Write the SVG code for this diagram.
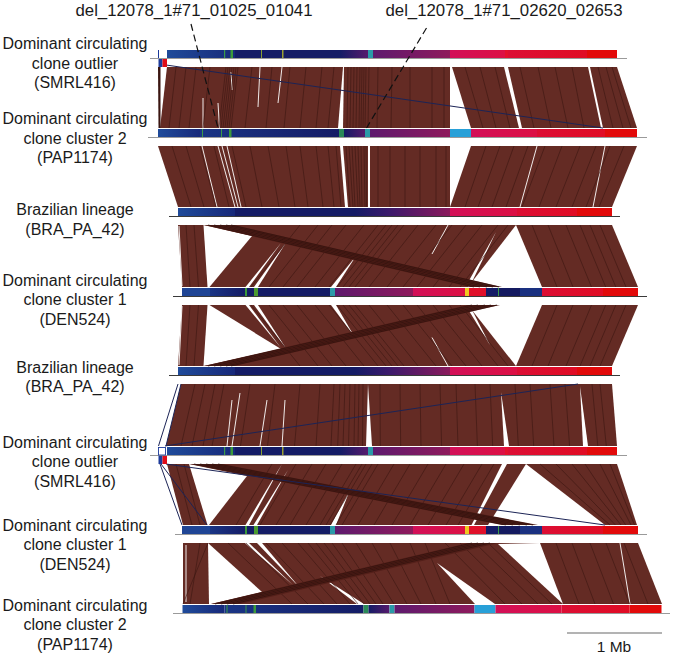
<svg xmlns="http://www.w3.org/2000/svg" xmlns:xlink="http://www.w3.org/1999/xlink" width="673" height="656" viewBox="0 0 673 656">
<style>
.lbl{font-family:"Liberation Sans",Arial,Helvetica,sans-serif;font-size:16px;fill:#1a1a1a;text-anchor:middle}
.del{font-family:"Liberation Sans",Arial,Helvetica,sans-serif;font-size:16.8px;fill:#1a1a1a;text-anchor:middle}
.rib{fill:#642b24}
.gap{fill:#fff}
.wl{stroke:#fff;stroke-width:0.9;fill:none}
.ln{stroke:#3a1510;stroke-width:0.6;fill:none}
.band{fill:#531f19}
.bl{stroke:#2e100c;stroke-width:0.7;fill:none}
.nv{stroke:#1c2456;stroke-width:1;fill:none}
.bg{stroke:#9a9a9a;stroke-width:1.2}
.bd{stroke:#3a3a3a;stroke-width:1}
.dash{stroke:#111;stroke-width:1.2;stroke-dasharray:7 4;fill:none}
</style>
<defs>
<linearGradient id="gB"><stop offset="0" stop-color="#1f4b9a"/><stop offset="1" stop-color="#17297a"/></linearGradient>
<linearGradient id="gBN"><stop offset="0" stop-color="#1a3585"/><stop offset="1" stop-color="#141c66"/></linearGradient>
<linearGradient id="gNP"><stop offset="0" stop-color="#141c66"/><stop offset="1" stop-color="#561a6c"/></linearGradient>
<linearGradient id="gNP2"><stop offset="0" stop-color="#141c66"/><stop offset="0.35" stop-color="#3a1a6c"/><stop offset="1" stop-color="#8a1a5c"/></linearGradient>
<linearGradient id="gP"><stop offset="0" stop-color="#5e1a6e"/><stop offset="1" stop-color="#8e1a5c"/></linearGradient>
<linearGradient id="gK"><stop offset="0" stop-color="#d21058"/><stop offset="1" stop-color="#dc1044"/></linearGradient>
<linearGradient id="gR"><stop offset="0" stop-color="#dc0e34"/><stop offset="1" stop-color="#e00c24"/></linearGradient>
<g id="barA">
<rect x="167" y="50" width="68" height="8" fill="url(#gB)"/>
<rect x="235" y="50" width="105" height="8" fill="#141c66"/>
<rect x="340" y="50" width="28" height="8" fill="url(#gNP)"/>
<rect x="368" y="50" width="5" height="8" fill="#2a9aa8"/>
<rect x="373" y="50" width="77" height="8" fill="url(#gP)"/>
<rect x="450" y="50" width="55" height="8" fill="url(#gK)"/>
<rect x="505" y="50" width="3" height="8" fill="#e4102c"/>
<rect x="508" y="50" width="79" height="8" fill="url(#gR)"/>
<rect x="587" y="50" width="30" height="8" fill="#e20a0a"/>
<rect x="224" y="50" width="1.2" height="8" fill="#3a9a48"/>
<rect x="230.5" y="50" width="2.5" height="8" fill="#3c9a3a"/>
<rect x="261" y="50" width="1" height="8" fill="#8aa032"/>
<rect x="282" y="50" width="1.5" height="8" fill="#9aa032"/>
<rect x="158.5" y="59" width="4" height="8" fill="#1c3a9a"/>
<rect x="162.5" y="59" width="4.5" height="8" fill="#e00c18"/>
</g>
<g id="barB">
<rect x="158" y="129" width="42" height="8" fill="url(#gB)"/>
<rect x="200" y="129" width="139" height="8" fill="url(#gBN)"/>
<rect x="202" y="129" width="1" height="8" fill="#3a9a48"/>
<rect x="221" y="129" width="1" height="8" fill="#3a9a48"/>
<rect x="229" y="129" width="2.5" height="8" fill="#3c9a3a"/>
<rect x="339" y="129" width="5" height="8" fill="#2a8a58"/>
<rect x="344" y="129" width="21" height="8" fill="url(#gNP)"/>
<rect x="365" y="129" width="5" height="8" fill="#2a9aa8"/>
<rect x="370" y="129" width="80" height="8" fill="url(#gP)"/>
<rect x="450" y="129" width="21" height="8" fill="#28a0d8"/>
<rect x="471" y="129" width="66" height="8" fill="url(#gK)"/>
<rect x="537" y="129" width="68" height="8" fill="url(#gR)"/>
<rect x="605" y="129" width="32" height="8" fill="#e20a0a"/>
</g>
<g id="barC">
<rect x="178" y="208" width="57" height="8" fill="url(#gB)"/>
<rect x="235" y="208" width="120" height="8" fill="#141c66"/>
<rect x="355" y="208" width="95" height="8" fill="url(#gNP2)"/>
<rect x="450" y="208" width="67" height="8" fill="url(#gK)"/>
<rect x="517" y="208" width="60" height="8" fill="url(#gR)"/>
<rect x="577" y="208" width="35" height="8" fill="#e20a0a"/>
</g>
<g id="barD">
<rect x="182" y="288" width="28" height="8" fill="#1f4595"/>
<rect x="210" y="288" width="35" height="8" fill="url(#gBN)"/>
<rect x="245" y="288" width="2" height="8" fill="#3a9a3a"/>
<rect x="247" y="288" width="7" height="8" fill="#141c66"/>
<rect x="254" y="288" width="4" height="8" fill="#4a9a30"/>
<rect x="258" y="288" width="72" height="8" fill="#141c66"/>
<rect x="330" y="288" width="5" height="8" fill="#2a9aa8"/>
<rect x="335" y="288" width="78" height="8" fill="url(#gP)"/>
<rect x="413" y="288" width="52" height="8" fill="url(#gK)"/>
<rect x="465" y="288" width="4" height="8" fill="#f0c820"/>
<rect x="469" y="288" width="17" height="8" fill="#e0102a"/>
<rect x="486" y="288" width="12" height="8" fill="#141c66"/>
<rect x="498" y="288" width="1" height="8" fill="#3a9a48"/>
<rect x="499" y="288" width="21" height="8" fill="#141a60"/>
<rect x="520" y="288" width="22" height="8" fill="#1a3080"/>
<rect x="542" y="288" width="61" height="8" fill="url(#gR)"/>
<rect x="603" y="288" width="35" height="8" fill="#e20a0a"/>
</g>
</defs>

<g id="connectors">
<g id="cmp-1-2">
<polygon class="rib" points="167,67 343,67 338,128 160,128"/>
<polygon class="rib" points="344,67 450,67 450,128 343,128"/>
<polygon class="rib" points="452,67 504,67 519,128 471,128"/>
<polygon class="rib" points="508,67 588,67 601,128 522,128"/>
<polygon class="rib" points="590,67 617,67 637,128 603,128"/>
<polygon fill="#3a1510" points="158,67 160.5,67 160.5,128 158.5,128"/>
<path class="wl" d="M203,98L203,128M218,103L219.5,128M260,67L258,107M282,67L278,103M231,72L232,90"/>
<path class="ln" d="M176,67L169,128M186,67L179,128M196,67L189,128M210,67L203,128M226,67L219,128M228,67L221,128M230,67L223,128M232,67L225,128M234,67L227,128M236,67L229,128M238,67L231,128M252,67L245,128M272,67L266,128M290,67L284,128M306,67L300,128M322,67L316,128M334,67L328,128M348,67L347,128M351,67L350,128M354,67L353,128M357,67L356,128M360,67L359,128M362,67L361,128M364,67L363,128M366,67L365,128M369,67L368,128M378,67L377,128M392,67L391,128M410,67L410,128M432,67L432,128M444,67L444,128M465,67L483,128M480,67L496,128M495,67L510,128M520,67L534,128M538,67L551,128M555,67L568,128M572,67L584,128M598,67L613,128M606,67L623,128M612,67L631,128"/>
<path class="nv" d="M166,65L603,128"/>
</g>
<g id="cmp-2-3">
<polygon class="rib" points="158,146 340,146 345,207 178,207"/>
<polygon class="rib" points="343,146 368,146 368,207 348,207"/>
<polygon class="rib" points="370,146 450,146 450,207 370,207"/>
<polygon class="rib" points="471,146 637,146 612,207 450,207"/>
<path class="wl" d="M202,146L217,207M218,146L235,207M222,146L238,207M227,146L241,207M537,146L520,207M605,146L593,207"/>
<path class="ln" d="M172,146L191,207M186,146L204,207M200,146L216,207M214,146L229,207M232,146L246,207M250,146L262,207M268,146L279,207M286,146L295,207M300,146L308,207M316,146L323,207M328,146L334,207M336,146L341,207M346,146L350,207M349,146L353,207M352,146L355,207M355,146L358,207M358,146L360,207M361,146L362,207M364,146L365,207M366,146L366.5,207M378,146L378,207M390,146L390,207M405,146L405,207M420,146L420,207M436,146L436,207M446,146L446,207M486,146L465,207M500,146L478,207M514,146L492,207M528,146L506,207M545,146L522,207M562,146L539,207M580,146L556,207M596,146L572,207M610,146L586,207M624,146L599,207"/>
</g>
<g id="cmp-3-4">
<polygon class="rib" points="178,225 612,225 638,287 182,287"/>
<polygon class="gap" points="203.5,225 252,236 209.5,287 207.5,287"/>
<polygon class="gap" points="287,241 258,287 254,287"/>
<polygon class="gap" points="281,243 249,287 245.5,287"/>
<polygon class="gap" points="356,256 336,287 331,287"/>
<polygon class="gap" points="496,232 470,286 466,286"/>
<polygon class="gap" points="516,225 468,287 542,287"/>
<path class="wl" d="M448,225L432,254M179,226L182,286"/>
<path class="ln" d="M186,225L190,287M194,225L198.5,287M300,225L251,287M318,225L269,287M332,225L283,287M346,225L297,287M364,225L315,287M378,225L329,287M386,225L337,287M392,225L343,287M398,225L349,287M404,225L355,287M418,225L369,287M436,225L387,287M452,225L403,287M466,225L417,287M482,225L433,287M498,225L449,287M508,225L460,287M532,225L557,287M548,225L573,287M566,225L591.5,287M580,225L605.7,287M590,225L615.8,287M600,225L626,287"/>
<polygon class="band" points="204,225 234,225 502,287 470,287"/>
<path class="bl" d="M208,225L474,287M214,225L480,287M220,225L487,287M226,225L493,287M231,225L499,287"/>
</g>
<g id="cmp-4-5">
<polygon class="rib" points="182,305 638,305 612,366 178,366"/>
<polygon class="gap" points="207.5,305 209.5,305 281,349 203.5,366"/>
<polygon class="gap" points="258,305 254,305 287,350"/>
<polygon class="gap" points="249,305 245.5,305 281,348"/>
<polygon class="gap" points="336,305 331,305 354,336"/>
<polygon class="gap" points="470,306 466,306 490,345"/>
<polygon class="gap" points="468,305 542,305 516,366"/>
<path class="wl" d="M448,366L432,337.5M182,306L179,365"/>
<path class="ln" d="M190,305L186,366M198.5,305L194,366M251,305L300,366M269,305L318,366M283,305L332,366M297,305L346,366M315,305L364,366M329,305L378,366M337,305L386,366M343,305L392,366M349,305L398,366M355,305L404,366M369,305L418,366M387,305L436,366M403,305L452,366M417,305L466,366M433,305L482,366M449,305L498,366M460,305L508,366M557,305L532,366M573,305L548,366M591.5,305L566,366M605.7,305L580,366M615.8,305L590,366M626,305L600,366"/>
<polygon class="band" points="204,366 234,366 500,305 468,305"/>
<path class="bl" d="M208,366L472,305M214,366L478,305M220,366L485,305M226,366L491,305M231,366L497,305"/>
</g>
<g id="cmp-5-6">
<polygon class="rib" points="181,384 612,384 617,446 166,446"/>
<polygon class="gap" points="368,384 372,446 366,446"/>
<polygon class="gap" points="501,392 509,446 504,446"/>
<polygon class="gap" points="580,386 588,446 583,446"/>
<path class="wl" d="M240,393L232,446M232,400L227,446M267,400L260,446M285,400L282,446"/>
<path class="ln" d="M195,384L181,446M205,384L192,446M215,384L203,446M224,384L212,446M250,384L240.5,446M275,384L267.5,446M300,384L294.5,446M320,384L316,446M334,384L331,446M340,384L337.7,446M345,384L343,446M350,384L348.5,446M355,384L354,446M359,384L358,446M363,384L362.5,446M380,384L380.3,446M400,384L400.7,446M420,384L421,446M440,384L441.6,446M456,384L458,446M475,384L477.4,446M490,384L492.7,446M515,384L518.3,446M530,384L533.7,446M550,384L554,446M565,384L569.6,446M592,384L597.8,446M600,384L606.3,446"/>
<path class="nv" d="M178,384L158.5,446M181,384L166,446M165,446L578,384"/>
</g>
<g id="cmp-6-7">
<polygon class="rib" points="167,464 617,464 637,525 183,525"/>
<polygon class="gap" points="189,464 247,476 209,525 207.5,525"/>
<polygon class="gap" points="282,464 249,525 245.5,525"/>
<polygon class="gap" points="288,470 257,525 253.5,525"/>
<polygon class="gap" points="350,490 336,525 331,525"/>
<polygon class="gap" points="502,464 507,464 474,525 471.5,525"/>
<polygon class="gap" points="526,464 488,525 605,525"/>
<path class="ln" d="M176,464L192,525M184,464L200,525M272,464L236,525M296,464L260,525M312,464L276,525M326,464L290,525M342,464L306,525M356,464L320,525M362,464L326,525M366,464L330,525M372,464L336,525M378,464L342,525M394,464L358,525M410,464L374,525M428,464L392,525M446,464L410,525M464,464L428,525M482,464L446,525M494,464L458,525M540,464L610,525M556,464L615.5,525M572,464L621,525M585,464L625.7,525M600,464L631,525M610,464L634.5,525"/>
<polygon class="band" points="190,464 222,464 538,525 502,525"/>
<path class="bl" d="M194,464L506,525M200,464L513,525M206,464L520,525M212,464L527,525M218,464L533,525"/>
<path class="nv" d="M160,464L182,525M161,464L207,525M166,464L605,525"/>
</g>
<g id="cmp-7-8">
<polygon class="rib" points="183,543 638,543 662,604 183,604"/>
<polygon class="gap" points="208,543 262,592 211,604 209,604"/>
<polygon class="gap" points="245,543 249,543 293,585"/>
<polygon class="gap" points="257,543 262,543 300,588"/>
<polygon class="gap" points="320,576 357,604 364,604"/>
<polygon class="gap" points="437,563 475,604 495,604"/>
<polygon class="gap" points="498,544 540,543 563,604"/>
<path class="wl" d="M620,543L630,604M186,545L186,602"/>
<path class="ln" d="M183,604L208,543M190,604L200,543M228,543L292,604M246,543L308,604M266,543L324,604M282,543L337,604M298,543L350,604M308,543L358,604M316,543L364,604M324,543L370,604M332,543L376,604M342,543L383,604M356,543L394,604M372,543L407,604M390,543L421,604M410,543L436,604M425,543L450,604M445,543L505,604M460,543L522,604M475,543L538,604M488,543L552,604M556,543L579,604M572,543L595,604M590,543L613.5,604M606,543L629.7,604M624,543L648,604"/>
<polygon class="band" points="211,604 240,604 498,543 468,543"/>
<path class="bl" d="M215,604L472,543M221,604L478,543M227,604L484,543M233,604L490,543"/>
</g>
</g>

<g id="track-SMRL416-top">
<line class="bg" x1="150" y1="58.5" x2="627" y2="58.5"/>
<use xlink:href="#barA"/>
<line x1="158.5" y1="50" x2="158.5" y2="58" stroke="#1c3a9a" stroke-width="1"/>
<text class="lbl" x="75" y="49">Dominant circulating</text>
<text class="lbl" x="75" y="68.5">clone outlier</text>
<text class="lbl" x="75" y="88">(SMRL416)</text>
</g>
<g id="track-PAP1174-top">
<line class="bg" x1="148" y1="137.5" x2="647" y2="137.5"/>
<use xlink:href="#barB"/>
<text class="lbl" x="75" y="124">Dominant circulating</text>
<text class="lbl" x="75" y="143.5">clone cluster 2</text>
<text class="lbl" x="75" y="163">(PAP1174)</text>
</g>
<g id="track-BRA_PA_42-1">
<line class="bd" x1="169" y1="216.5" x2="620" y2="216.5"/>
<use xlink:href="#barC"/>
<text class="lbl" x="75" y="215">Brazilian lineage</text>
<text class="lbl" x="75" y="234.5">(BRA_PA_42)</text>
</g>
<g id="track-DEN524-1">
<line class="bd" x1="173" y1="296.5" x2="647" y2="296.5"/>
<use xlink:href="#barD"/>
<text class="lbl" x="75" y="285.5">Dominant circulating</text>
<text class="lbl" x="75" y="305">clone cluster 1</text>
<text class="lbl" x="75" y="324.5">(DEN524)</text>
</g>
<g id="track-BRA_PA_42-2">
<line class="bd" x1="169" y1="375.5" x2="620" y2="375.5"/>
<use xlink:href="#barC" transform="translate(0,159)"/>
<text class="lbl" x="75" y="372.5">Brazilian lineage</text>
<text class="lbl" x="75" y="392">(BRA_PA_42)</text>
</g>
<g id="track-SMRL416-2">
<line class="bg" x1="150" y1="455.5" x2="627" y2="455.5"/>
<use xlink:href="#barA" transform="translate(0,397)"/>
<rect x="158.5" y="447.5" width="7" height="7.5" fill="#fff" stroke="#1c3a9a" stroke-width="0.9"/>
<text class="lbl" x="75" y="447.5">Dominant circulating</text>
<text class="lbl" x="75" y="467">clone outlier</text>
<text class="lbl" x="75" y="486.5">(SMRL416)</text>
</g>
<g id="track-DEN524-2">
<line class="bg" x1="175" y1="534.5" x2="647" y2="534.5"/>
<use xlink:href="#barD" transform="translate(0,238)"/>
<text class="lbl" x="75" y="530.5">Dominant circulating</text>
<text class="lbl" x="75" y="550">clone cluster 1</text>
<text class="lbl" x="75" y="569.5">(DEN524)</text>
</g>
<g id="track-PAP1174-2">
<line class="bg" x1="173" y1="613.5" x2="670" y2="613.5"/>
<use xlink:href="#barB" transform="translate(24.5,476)"/>
<text class="lbl" x="75" y="610.5">Dominant circulating</text>
<text class="lbl" x="75" y="630">clone cluster 2</text>
<text class="lbl" x="75" y="649.5">(PAP1174)</text>
</g>

<g id="annotations">
<text class="del" x="194" y="16">del_12078_1#71_01025_01041</text>
<text class="del" x="504" y="16">del_12078_1#71_02620_02653</text>
<path class="dash" d="M191,24L218,128"/>
<path class="dash" d="M426.5,28L366.5,128"/>
</g>
<g id="scale-bar">
<line x1="567" y1="633" x2="662" y2="633" stroke="#9a9a9a" stroke-width="1.5"/>
<text class="lbl" x="614" y="652" style="font-size:15.5px">1 Mb</text>
</g>
</svg>
